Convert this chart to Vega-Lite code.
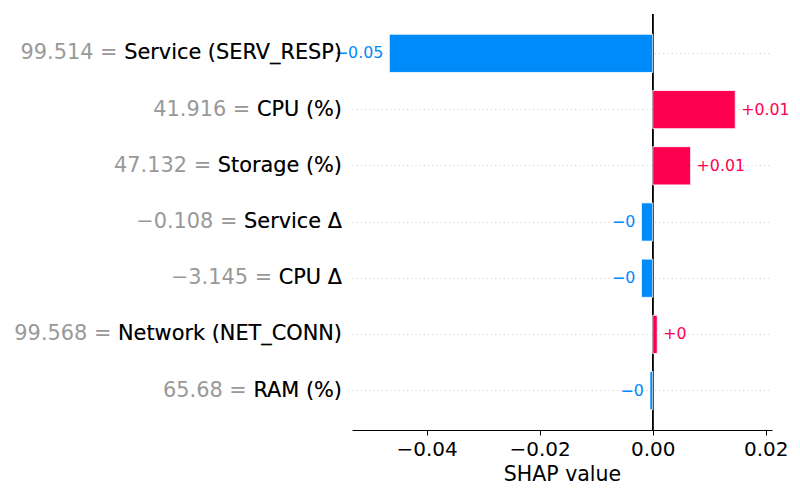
{
  "$schema": "https://vega.github.io/schema/vega-lite/v6.json",
  "width": 420,
  "height": 416,
  "autosize": {"type": "none"},
  "padding": {"left": 352, "top": 14, "right": 28, "bottom": 70},
  "config": {"view": {"stroke": null}, "font": "DejaVu Sans"},
  "data": {
    "values": [
      {"feature": "Service (SERV_RESP)", "value": 99.514, "shap": -0.0466},
      {"feature": "CPU (%)", "value": 41.916, "shap": 0.0146},
      {"feature": "Storage (%)", "value": 47.132, "shap": 0.0067},
      {"feature": "Service Δ", "value": -0.108, "shap": -0.0020},
      {"feature": "CPU Δ", "value": -3.145, "shap": -0.0020},
      {"feature": "Network (NET_CONN)", "value": 99.568, "shap": 0.0008},
      {"feature": "RAM (%)", "value": 65.68, "shap": -0.0005}
    ]
  },
  "transform": [
    {"calculate": "format(datum.value, '.3~f') + ' = ' + datum.feature", "as": "label"}
  ],
  "encoding": {
    "y": {
      "field": "feature",
      "type": "nominal",
      "sort": null,
      "scale": {"paddingInner": 0.32, "paddingOuter": 0.36},
      "axis": {
        "title": null,
        "labels": false,
        "ticks": false,
        "domain": false,
        "grid": true,
        "gridColor": "#cccccc",
        "gridDash": [1, 3.2],
        "gridWidth": 1,
        "bandPosition": 0.5
      }
    }
  },
  "layer": [
    {
      "mark": {"type": "rule", "color": "#000000", "strokeWidth": 1},
      "encoding": {"x": {"datum": 0, "type": "quantitative"}, "y": null}
    },
    {
      "mark": {"type": "bar", "stroke": "#ffffff", "strokeOpacity": 0.8, "strokeWidth": 1},
      "encoding": {
        "x": {
          "field": "shap",
          "type": "quantitative",
          "scale": {"domain": [-0.0532, 0.0211], "nice": false, "zero": false},
          "axis": {
            "title": "SHAP value",
            "values": [-0.04, -0.02, 0, 0.02],
            "format": ".2f",
            "grid": false,
            "domainColor": "#000000",
            "tickColor": "#000000",
            "tickSize": 5,
            "labelFontSize": 20,
            "labelColor": "#000000",
            "labelPadding": 4,
            "titleFontSize": 20.5,
            "titleColor": "#000000",
            "titleFontWeight": "normal",
            "titlePadding": 5
          }
        },
        "x2": {"datum": 0},
        "color": {"condition": {"test": "datum.shap > 0", "value": "#ff0051"}, "value": "#008bfb"}
      }
    },
    {
      "transform": [{"filter": "datum.shap > 0"}],
      "mark": {"type": "text", "align": "left", "baseline": "middle", "dx": 6, "fontSize": 15.8, "color": "#ff0051"},
      "encoding": {
        "x": {"field": "shap", "type": "quantitative"},
        "text": {"field": "shap", "type": "quantitative", "format": "+.2~f"}
      }
    },
    {
      "transform": [{"filter": "datum.shap < 0"}],
      "mark": {"type": "text", "align": "right", "baseline": "middle", "dx": -6, "fontSize": 15.8, "color": "#008bfb"},
      "encoding": {
        "x": {"field": "shap", "type": "quantitative"},
        "text": {"field": "shap", "type": "quantitative", "format": "+.2~f"}
      }
    },
    {
      "mark": {"type": "text", "align": "right", "baseline": "middle", "dx": -10, "fontSize": 20.85, "color": "#999999"},
      "encoding": {
        "x": {"datum": -0.0532, "type": "quantitative"},
        "text": {"field": "label", "type": "nominal"}
      }
    },
    {
      "mark": {"type": "text", "align": "right", "baseline": "middle", "dx": -10, "fontSize": 20.85, "color": "#000000"},
      "encoding": {
        "x": {"datum": -0.0532, "type": "quantitative"},
        "text": {"field": "feature", "type": "nominal"}
      }
    }
  ]
}
